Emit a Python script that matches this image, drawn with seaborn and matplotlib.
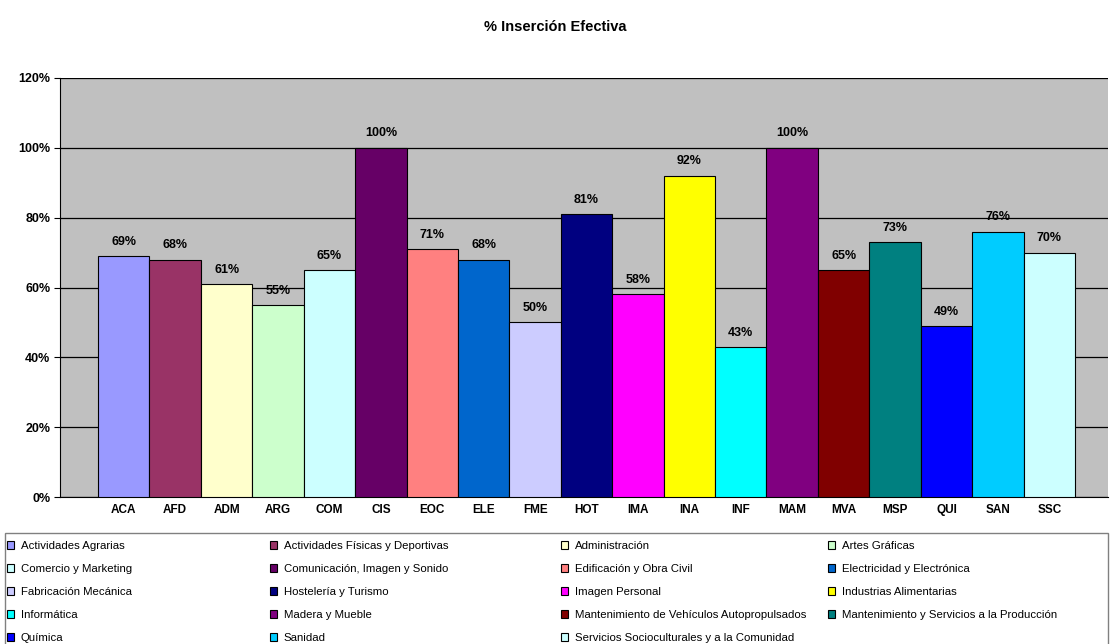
import matplotlib
matplotlib.use('Agg')
import matplotlib.pyplot as plt
import seaborn as sns
from matplotlib.patches import Patch, Rectangle

# datos del grafico
codigos = ['ACA', 'AFD', 'ADM', 'ARG', 'COM', 'CIS', 'EOC', 'ELE', 'FME', 'HOT',
           'IMA', 'INA', 'INF', 'MAM', 'MVA', 'MSP', 'QUI', 'SAN', 'SSC']
insercion = [69, 68, 61, 55, 65, 100, 71, 68, 50, 81, 58, 92, 43, 100, 65, 73, 49, 76, 70]
familias = ['Actividades Agrarias', 'Actividades Físicas y Deportivas', 'Administración',
            'Artes Gráficas', 'Comercio y Marketing', 'Comunicación, Imagen y Sonido',
            'Edificación y Obra Civil', 'Electricidad y Electrónica', 'Fabricación Mecánica',
            'Hostelería y Turismo', 'Imagen Personal', 'Industrias Alimentarias',
            'Informática', 'Madera y Mueble', 'Mantenimiento de Vehículos Autopropulsados',
            'Mantenimiento y Servicios a la Producción', 'Química', 'Sanidad',
            'Servicios Socioculturales y a la Comunidad']
colores = ['#9999FF', '#993366', '#FFFFCC', '#CCFFCC', '#CCFFFF', '#660066', '#FF8080',
           '#0066CC', '#CCCCFF', '#000080', '#FF00FF', '#FFFF00', '#00FFFF', '#800080',
           '#800000', '#008080', '#0000FF', '#00CCFF', '#CCFFFF']

sns.set_style('white')
plt.rcParams['font.family'] = ['Liberation Sans', 'DejaVu Sans']
plt.rcParams['text.color'] = 'black'
plt.rcParams['xtick.color'] = 'black'
plt.rcParams['ytick.color'] = 'black'
plt.rcParams['xtick.labelcolor'] = 'black'
plt.rcParams['ytick.labelcolor'] = 'black'

fig = plt.figure(figsize=(11.1, 6.44), dpi=100)
ax = fig.add_axes([60/1110, 1-497/644, 1048/1110, 419/644])
ax.set_facecolor('#C0C0C0')

sns.barplot(x=codigos, y=insercion, hue=codigos, palette=colores, width=1.0, saturation=1,
            edgecolor='black', linewidth=0.8, legend=False, ax=ax, zorder=3)

for c, v in zip(ax.containers, insercion):
    ax.bar_label(c, labels=[f'{v}%'], padding=6, fontsize=9, fontweight='bold', color='black')

ax.set_ylim(0, 120)
ax.set_yticks(range(0, 121, 20))
ax.set_yticklabels([f'{t}%' for t in range(0, 121, 20)], fontsize=9, fontweight='bold')
ax.set_xlim(-0.5 - 38/51.4, 18.5 + 33/51.4)
ax.tick_params(axis='x', length=0, labelsize=8.5, pad=5)
for lab in ax.get_xticklabels():
    lab.set_fontweight('bold')
ax.tick_params(axis='y', length=4, direction='out', left=True, pad=3)
ax.grid(axis='y', color='black', linewidth=0.9, zorder=0)
ax.set_axisbelow(True)
for s in ['top', 'right']:
    ax.spines[s].set_visible(False)
ax.spines['left'].set_color('black')
ax.spines['bottom'].set_color('black')
ax.set_xlabel('')
ax.set_ylabel('')

fig.suptitle('% Inserción Efectiva', y=1-27/644, va='center', fontsize=10.5,
             fontweight='bold', color='black')

# leyenda: 4 columnas, orden por filas
handles = [Patch(facecolor=col, edgecolor='black', linewidth=0.8, label=f)
           for col, f in zip(colores, familias)]
col_x = [7, 270, 561, 828]
for j, x in enumerate(col_x):
    leg = fig.legend(handles=handles[j::4], loc='upper left', ncol=1,
                     bbox_to_anchor=(x/1110, 1-541/644), frameon=False,
                     fontsize=8.2, borderaxespad=0, borderpad=0,
                     handlelength=0.6, handleheight=0.6, handletextpad=0.6,
                     labelspacing=1.14, labelcolor='black')
fig.patches.append(Rectangle((5/1110, -0.05), 1103/1110, 0.05 + 1-533/644,
                             transform=fig.transFigure, facecolor='none',
                             edgecolor='#808080', linewidth=1.0))

fig.savefig('out.png', dpi=100)
